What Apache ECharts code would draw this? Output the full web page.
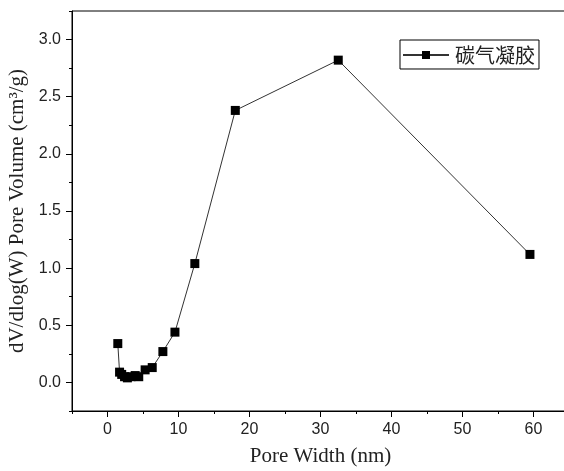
<!DOCTYPE html>
<html>
<head>
<meta charset="utf-8">
<script src="https://cdn.jsdelivr.net/npm/echarts@6/dist/echarts.min.js"></script>
<style>
  html, body { margin: 0; padding: 0; background: #fff; }
  #chart { width: 564px; height: 471px; }
</style>
</head>
<body>
<div id="chart"></div>
<script>
// BJH pore size distribution of the carbon aerogel
const seriesName = '碳气凝胶';
const poreWidth = [1.45, 1.7, 2.0, 2.4, 2.8, 3.3, 3.9, 4.4, 5.3, 6.3, 7.8, 9.5, 12.3, 18.0, 32.5, 59.5];
const poreVolume = [0.34, 0.09, 0.07, 0.05, 0.04, 0.05, 0.06, 0.05, 0.11, 0.13, 0.27, 0.44, 1.04, 2.38, 2.82, 1.12];

const xMajorTicks = [0, 10, 20, 30, 40, 50, 60];
const yMajorTicks = [0, 0.5, 1.0, 1.5, 2.0, 2.5, 3.0];

const xTitle = 'Pore Width (nm)';
const yTitle = 'dV/dlog(W) Pore Volume (cm\u00B3/g)';

const points = poreWidth.map((w, i) => [w, poreVolume[i]]);

const tickFont = { fontFamily: 'Liberation Sans, Arial, sans-serif', fontSize: 16, color: '#222' };
const titleFont = { fontFamily: 'Liberation Serif, Times New Roman, serif', fontSize: 21, color: '#222' };

const chart = echarts.init(document.getElementById('chart'), null, { renderer: 'canvas' });

chart.setOption({
  animation: false,
  backgroundColor: '#fff',
  grid: {
    left: 72, top: 11, width: 497, height: 400,
    outerBoundsMode: 'none', containLabel: false,
    show: true, borderColor: '#000', borderWidth: 1, backgroundColor: 'transparent'
  },
  legend: {
    left: 400, top: 40,
    orient: 'horizontal',
    padding: [5, 4, 4, 2],
    borderColor: '#000', borderWidth: 1,
    itemWidth: 46, itemHeight: 10, itemGap: 5,
    textStyle: { fontFamily: 'Noto Sans CJK SC', fontSize: 20, color: '#222', padding: [0, 0, 0, 1] },
    data: [seriesName]
  },
  xAxis: [
    {
      type: 'value', min: -5, max: 65, interval: 5,
      name: xTitle, nameLocation: 'middle', nameGap: 35, nameTextStyle: titleFont,
      axisLine: { show: true, onZero: false, lineStyle: { color: '#000', width: 1 } },
      axisTick: { show: true, inside: false, length: 3, lineStyle: { color: '#000' } },
      axisLabel: {
        ...tickFont, margin: 11,
        formatter: v => (xMajorTicks.includes(v) ? String(v) : '')
      },
      splitLine: { show: false }
    },
    {
      type: 'value', min: -5, max: 65, position: 'bottom', gridIndex: 0,
      axisLine: { show: false, onZero: false },
      axisTick: { show: true, inside: false, length: 6, customValues: xMajorTicks, lineStyle: { color: '#000' } },
      axisLabel: { show: false },
      splitLine: { show: false }
    }
  ],
  yAxis: [
    {
      type: 'value', min: -0.25, max: 3.25, interval: 0.25,
      name: yTitle, nameLocation: 'middle', nameGap: 19, nameRotate: 90, nameTextStyle: titleFont,
      axisLine: { show: true, onZero: false, lineStyle: { color: '#000', width: 1 } },
      axisTick: { show: true, inside: false, length: 3, lineStyle: { color: '#000' } },
      axisLabel: {
        ...tickFont, margin: 11,
        formatter: v => {
          const hit = yMajorTicks.find(t => Math.abs(t - v) < 1e-6);
          return hit === undefined ? '' : hit.toFixed(1);
        }
      },
      splitLine: { show: false }
    },
    {
      type: 'value', min: -0.25, max: 3.25, position: 'left', gridIndex: 0,
      axisLine: { show: false, onZero: false },
      axisTick: { show: true, inside: false, length: 6, customValues: yMajorTicks, lineStyle: { color: '#000' } },
      axisLabel: { show: false },
      splitLine: { show: false }
    }
  ],
  series: [
    {
      name: seriesName,
      type: 'line',
      data: points,
      symbol: 'rect',
      symbolSize: 9,
      showAllSymbol: true,
      lineStyle: { color: '#333', width: 1 },
      itemStyle: { color: '#000' },
      z: 3
    }
  ]
});
</script>
</body>
</html>
